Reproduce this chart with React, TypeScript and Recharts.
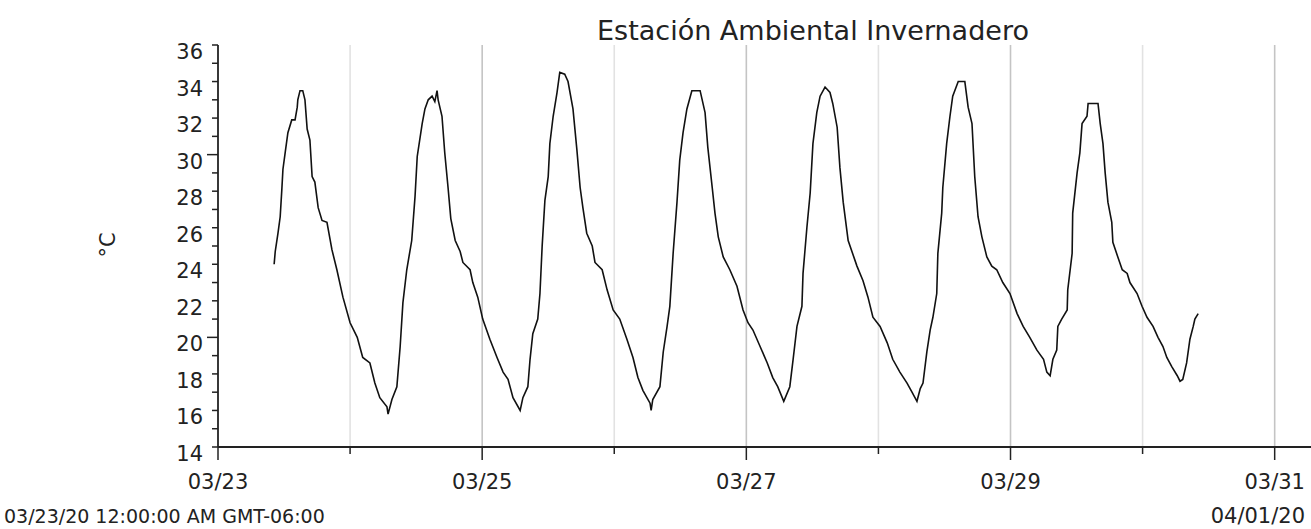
import { LineChart, Line, XAxis, YAxis, ReferenceLine } from "recharts";

// hours since 03/23/20 00:00
const hours = [
  10.2, 10.4, 10.9, 11.3, 11.6, 11.8, 12.2, 12.7, 13.4, 14.0,
  14.4, 14.5, 14.9, 15.4, 15.8, 16.2, 16.7, 17.1, 17.6, 18.2,
  18.9, 19.8, 20.7, 21.6, 22.7, 24.0, 25.3, 26.3, 27.6, 28.5,
  29.4, 30.7, 30.9, 31.6, 32.5, 33.1, 33.6, 34.3, 35.2, 35.8,
  36.2, 37.1, 37.6, 38.2, 38.9, 39.4, 39.8, 40.0, 40.7, 41.2,
  41.8, 42.3, 43.1, 44.0, 44.5, 45.8, 46.3, 47.2, 48.1, 49.4,
  50.7, 51.8, 52.7, 53.6, 54.9, 55.4, 56.3, 56.7, 57.2, 58.1,
  58.5, 58.9, 59.4, 60.0, 60.3, 60.9, 61.6, 62.1, 63.0, 63.6,
  64.5, 65.2, 65.8, 66.3, 67.0, 68.0, 68.5, 69.8, 70.7, 71.8,
  73.0, 74.3, 75.4, 76.3, 77.2, 78.5, 78.7, 79.0, 80.3, 80.9,
  81.6, 82.1, 82.7, 83.4, 83.9, 84.5, 85.2, 86.1, 87.6, 88.5,
  89.0, 89.8, 90.3, 90.9, 91.8, 93.0, 94.3, 95.4, 96.3, 97.2,
  98.5, 99.8, 100.8, 101.7, 102.8, 103.9, 104.5, 105.2, 106.1, 106.3,
  107.0, 107.6, 108.1, 108.8, 109.4, 110.3, 111.2, 111.7, 112.5, 113.0,
  113.6, 114.5, 116.1, 117.2, 118.1, 119.0, 120.3, 121.6, 122.6, 123.9,
  125.2, 126.1, 127.0, 127.6, 128.1, 128.8, 129.4, 129.9, 130.6, 130.8,
  131.5, 131.7, 132.4, 133.0, 133.5, 134.5, 135.7, 136.3, 137.0, 137.5,
  138.1, 138.8, 139.7, 140.6, 141.5, 142.6, 143.9, 145.2, 146.3, 147.5,
  148.8, 150.0, 150.6, 151.2, 151.7, 152.4, 152.6, 153.3, 154.3, 154.4,
  155.2, 155.3, 156.1, 156.6, 157.0, 157.9, 158.1, 159.9, 160.3, 160.8,
  161.2, 161.7, 162.4, 162.6, 163.5, 164.3, 165.2, 165.7, 167.0, 167.9,
  168.8, 169.9, 170.8, 171.7, 172.4, 173.3, 174.3, 174.8, 175.3, 176.0,
  176.6, 177.2, 177.5, 178.1,
];

// temperature, °C
const temps = [
  24.0, 24.7, 25.7, 26.6, 28.1, 29.2, 30.1, 31.2, 31.9, 31.9,
  32.6, 33.0, 33.5, 33.5, 33.0, 31.4, 30.8, 28.8, 28.5, 27.1,
  26.4, 26.3, 24.8, 23.7, 22.2, 20.8, 20.0, 18.9, 18.6, 17.5,
  16.7, 16.2, 15.8, 16.6, 17.3, 19.5, 21.9, 23.7, 25.3, 27.7,
  29.9, 31.7, 32.5, 33.0, 33.2, 32.9, 33.5, 33.0, 32.1, 30.1,
  28.2, 26.5, 25.3, 24.7, 24.1, 23.7, 23.0, 22.2, 21.0, 19.9,
  18.9, 18.1, 17.7, 16.7, 16.0, 16.7, 17.3, 18.8, 20.2, 21.0,
  22.4, 25.0, 27.5, 28.8, 30.6, 32.1, 33.4, 34.5, 34.4, 34.0,
  32.5, 30.3, 28.2, 27.1, 25.7, 25.0, 24.1, 23.7, 22.6, 21.5,
  21.0, 19.9, 18.9, 17.8, 17.1, 16.4, 16.0, 16.6, 17.3, 19.2,
  20.6, 21.7, 24.6, 27.4, 29.7, 31.2, 32.5, 33.5, 33.5, 32.3,
  30.4, 28.2, 26.8, 25.5, 24.4, 23.7, 22.8, 21.5, 20.8, 20.4,
  19.5, 18.6, 17.8, 17.3, 16.5, 17.3, 18.8, 20.6, 21.7, 23.5,
  26.0, 27.9, 30.6, 32.3, 33.2, 33.7, 33.4, 32.8, 31.5, 29.3,
  27.4, 25.3, 23.9, 23.1, 22.2, 21.1, 20.6, 19.7, 18.8, 18.1,
  17.5, 17.0, 16.5, 17.2, 17.5, 19.2, 20.4, 21.1, 22.4, 24.6,
  26.8, 28.2, 30.6, 32.1, 33.2, 34.0, 34.0, 32.6, 31.7, 28.8,
  26.6, 25.5, 24.4, 23.9, 23.7, 23.0, 22.4, 21.3, 20.6, 20.0,
  19.3, 18.8, 18.1, 17.9, 18.8, 19.3, 20.6, 21.0, 21.5, 22.6,
  24.6, 26.8, 29.0, 30.1, 31.7, 32.1, 32.8, 32.8, 31.7, 30.6,
  29.0, 27.4, 26.3, 25.2, 24.4, 23.7, 23.5, 23.0, 22.4, 21.7,
  21.1, 20.6, 20.0, 19.5, 18.9, 18.4, 17.9, 17.6, 17.7, 18.6,
  19.9, 20.6, 21.0, 21.3,
];

const dayTicks = [0, 24, 48, 72, 96, 120, 144, 168, 192];
const dayLabels = ["03/23", "", "03/25", "", "03/27", "", "03/29", "", "03/31"];
const yTicks = [14, 15, 16, 17, 18, 19, 20, 21, 22, 23, 24, 25, 26, 27, 28, 29, 30, 31, 32, 33, 34, 35, 36];

const title = "Estación Ambiental Invernadero";
const yLabel = "°C";
const startLabel = "03/23/20 12:00:00 AM GMT-06:00";
const endLabel = "04/01/20";

const data = hours.map((h, i) => ({ t: h, v: temps[i] }));

const FONT = "'DejaVu Sans', sans-serif";
const TEXT = "#222";

const YTick = ({ x, y, payload }: any) => {
  const v = payload.value;
  const len = v === 20 || v === 30 ? 11 : 6;
  return (
    <g>
      <line x1={x - len} x2={x} y1={y} y2={y} stroke="#222" strokeWidth={1.5} />
      {v % 2 === 0 && (
        <text x={x - 15} y={y + 14} textAnchor="end" fontSize={21} fontFamily={FONT} fill={TEXT}>
          {v}
        </text>
      )}
    </g>
  );
};

const XTick = ({ x, y, payload, index }: any) => {
  const label = dayLabels[index] ?? "";
  const len = label ? 13 : 7;
  return (
    <g>
      <line x1={x} x2={x} y1={y} y2={y + len} stroke="#222" strokeWidth={1.5} />
      {label && (
        <text x={x} y={y + 42} textAnchor="middle" fontSize={21} fontFamily={FONT} fill={TEXT}>
          {label}
        </text>
      )}
    </g>
  );
};

export default function App() {
  return (
    <div style={{ position: "absolute", left: 0, top: 0, width: 1311, height: 529, background: "#fff", overflow: "hidden" }}>
      <LineChart width={1311} height={529} data={data} margin={{ top: 45, right: 0, bottom: 0, left: 0 }}>
        {dayTicks.slice(1).map((d, i) => (
          <ReferenceLine
            key={d}
            x={d}
            stroke={i % 2 === 0 ? "#e2e2e2" : "#c4c4c4"}
            strokeWidth={1.6}
          />
        ))}
        <XAxis
          dataKey="t"
          type="number"
          domain={[0, 198.6]}
          ticks={dayTicks}
          interval={0}
          height={82}
          tickSize={0}
          tickMargin={0}
          tickLine={false}
          axisLine={{ stroke: "#222", strokeWidth: 1.8 }}
          tick={<XTick />}
          allowDataOverflow
        />
        <YAxis
          type="number"
          domain={[14, 36]}
          ticks={yTicks}
          interval={0}
          width={218}
          tickSize={0}
          tickMargin={0}
          tickLine={false}
          axisLine={{ stroke: "#222", strokeWidth: 1.8 }}
          tick={<YTick />}
        />
        <Line
          dataKey="v"
          type="linear"
          stroke="#111"
          strokeWidth={1.6}
          dot={false}
          isAnimationActive={false}
        />
      </LineChart>
      <svg width={1311} height={529} style={{ position: "absolute", left: 0, top: 0, pointerEvents: "none" }}>
        <text x={813} y={40} textAnchor="middle" fontSize={27} fontFamily={FONT} fill={TEXT}>
          {title}
        </text>
        <text
          x={0}
          y={0}
          transform="translate(115,245) rotate(-90)"
          textAnchor="middle"
          fontSize={21}
          fontFamily={FONT}
          fill={TEXT}
        >
          {yLabel}
        </text>
        <text x={4} y={523} fontSize={19} fontFamily={FONT} fill={TEXT}>
          {startLabel}
        </text>
        <text x={1305} y={523} textAnchor="end" fontSize={21} fontFamily={FONT} fill={TEXT}>
          {endLabel}
        </text>
      </svg>
    </div>
  );
}
